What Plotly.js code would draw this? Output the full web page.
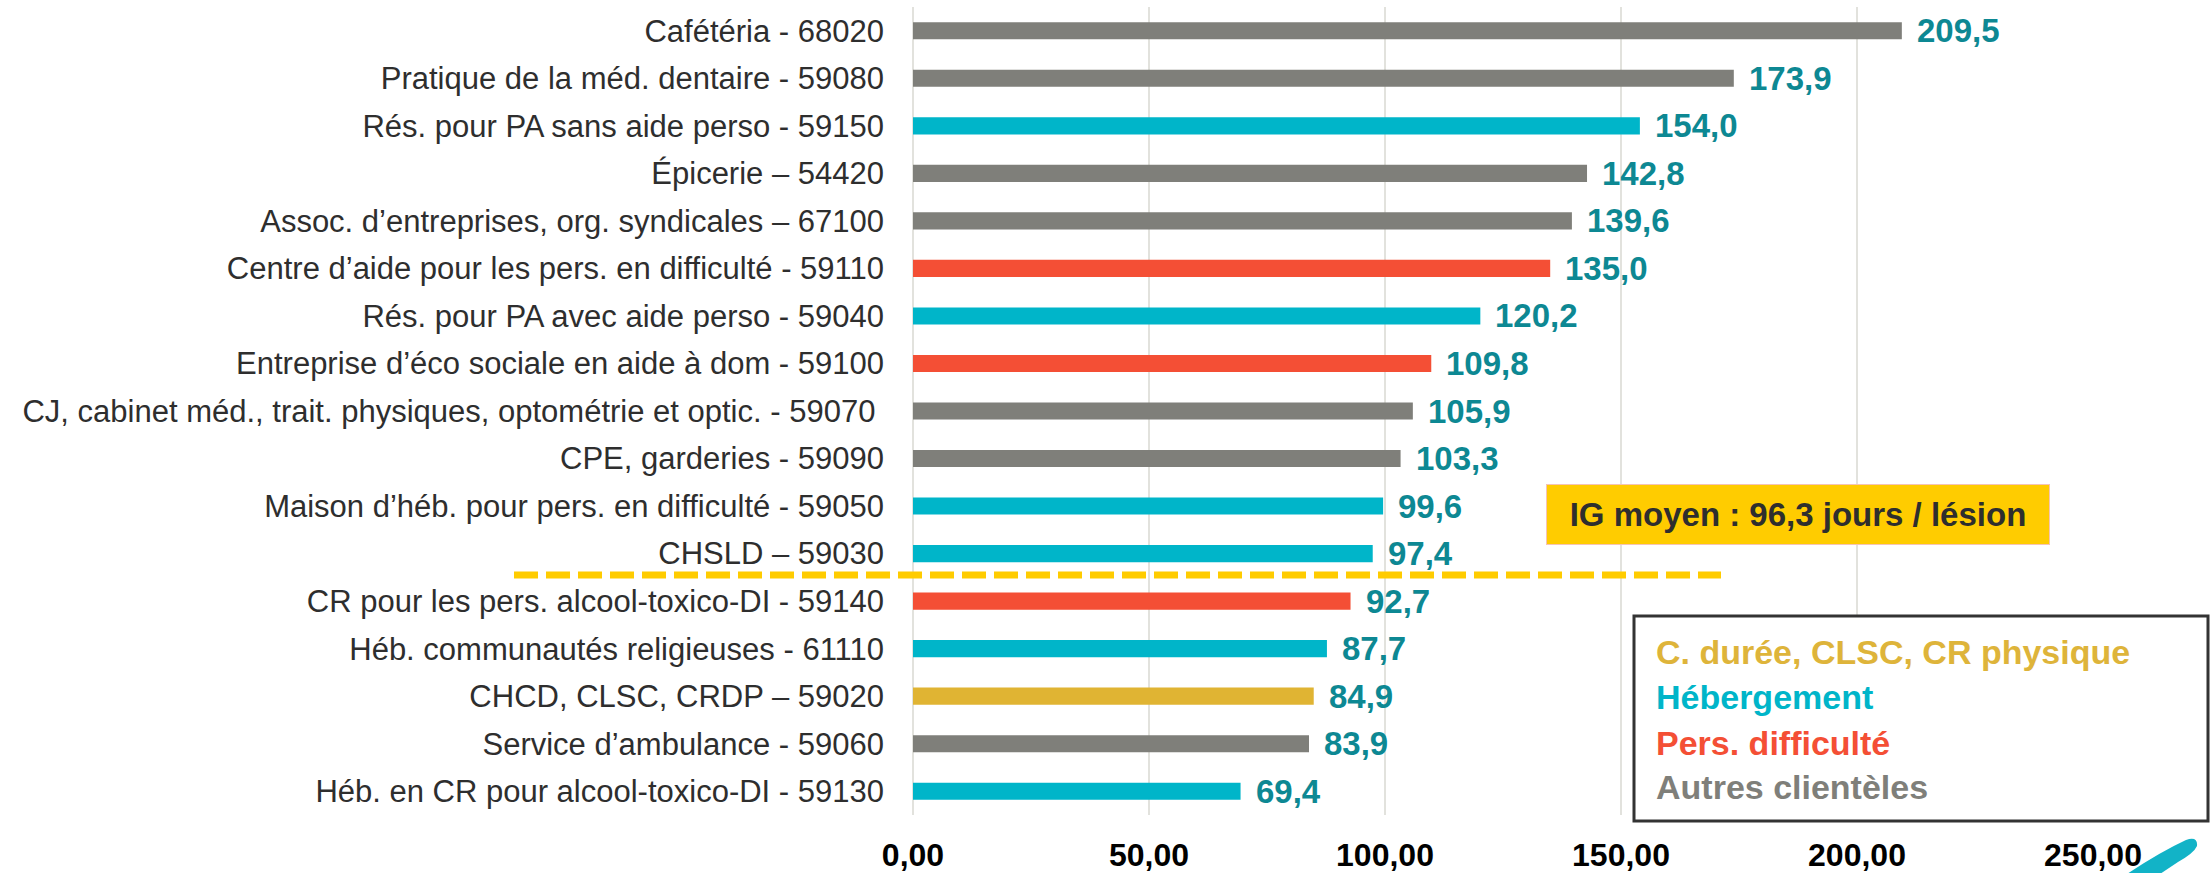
<!DOCTYPE html>
<html>
<head>
<meta charset="utf-8">
<script src="https://cdn.plot.ly/plotly-3.0.1.min.js"></script>
<style>html,body{margin:0;padding:0;background:#fff;}#chart{width:2212px;height:873px;}</style>
</head>
<body>
<div id="chart"></div>
<script>
// ---- Data ----
const categories = [
  "Cafétéria - 68020",
  "Pratique de la méd. dentaire - 59080",
  "Rés. pour PA sans aide perso - 59150",
  "Épicerie – 54420",
  "Assoc. d’entreprises, org. syndicales – 67100",
  "Centre d’aide pour les pers. en difficulté - 59110",
  "Rés. pour PA avec aide perso - 59040",
  "Entreprise d’éco sociale en aide à dom - 59100",
  "CJ, cabinet méd., trait. physiques, optométrie et optic. - 59070\u00a0",
  "CPE, garderies - 59090",
  "Maison d’héb. pour pers. en difficulté - 59050",
  "CHSLD – 59030",
  "CR pour les pers. alcool-toxico-DI - 59140",
  "Héb. communautés religieuses - 61110",
  "CHCD, CLSC, CRDP – 59020",
  "Service d’ambulance - 59060",
  "Héb. en CR pour alcool-toxico-DI - 59130"
];
const values = [209.5, 173.9, 154.0, 142.8, 139.6, 135.0, 120.2, 109.8, 105.9, 103.3, 99.6, 97.4, 92.7, 87.7, 84.9, 83.9, 69.4];
const groups = ["autres","autres","heb","autres","autres","pers","heb","pers","autres","autres","heb","heb","pers","heb","cd","autres","heb"];
const legendLabels = ["C. durée, CLSC, CR physique", "Hébergement", "Pers. difficulté", "Autres clientèles"];
const legendGroups = ["cd", "heb", "pers", "autres"];
const averageText = "IG moyen : 96,3 jours / lésion";
const xTickValues = [0, 50, 100, 150, 200, 250];

// ---- Styles ----
const groupColors = {cd: "#e0b433", heb: "#00b5c9", pers: "#f44f35", autres: "#7f7f7a"};
const legendTextColors = {cd: "#deb43a", heb: "#00b5c9", pers: "#f44f35", autres: "#7f7f7a"};
const valueColor = "#0d8893";
const FONT = "'Liberation Sans', Arial, sans-serif";

const W = 2212, H = 873;
const M = {l: 913, r: 119, t: 7, b: 58};
const PW = W - M.l - M.r, PH = H - M.t - M.b;
const px = x => (x - M.l) / PW;
const py = y => (H - M.b - y) / PH;

const fmt1 = v => v.toFixed(1).replace(".", ",");

const trace = {
  type: "bar",
  orientation: "h",
  y: categories,
  x: values,
  marker: {color: groups.map(g => groupColors[g])},
  hoverinfo: "x+y",
  cliponaxis: false
};

const annotations = [];
categories.forEach((c, i) => {
  annotations.push({
    x: values[i], y: c, xref: "x", yref: "y",
    text: fmt1(values[i]), showarrow: false,
    xanchor: "left", yanchor: "middle", xshift: 13,
    font: {family: FONT, size: 33, color: valueColor, weight: "bold"}
  });
});

// average box
annotations.push({
  x: px(1798), y: py(514.5), xref: "paper", yref: "paper",
  text: "<b>" + averageText + "</b>", showarrow: false,
  xanchor: "center", yanchor: "middle",
  width: 500, height: 57, bgcolor: "#ffcc00",
  bordercolor: "#f5c4b4", borderwidth: 1, borderpad: 1,
  font: {family: FONT, size: 33, color: "#2e2e2e"}
});

// legend texts
const legendY = [652, 697, 743, 787];
legendLabels.forEach((t, i) => {
  annotations.push({
    x: px(1654), y: py(legendY[i]), xref: "paper", yref: "paper",
    text: "<b>" + t + "</b>", showarrow: false,
    xanchor: "left", yanchor: "middle",
    font: {family: FONT, size: 34, color: legendTextColors[legendGroups[i]]}
  });
});

const shapes = [
  // average dashed separator
  {type: "line", xref: "paper", yref: "y", x0: px(514), x1: px(1721), y0: 11.45, y1: 11.45,
   line: {color: "#ffcc00", width: 7, dash: "24px,8px"}, layer: "above"},
  // legend box
  {type: "rect", xref: "paper", yref: "paper", x0: px(1634), x1: px(2208), y0: py(821), y1: py(616),
   line: {color: "#333333", width: 3}, fillcolor: "rgba(255,255,255,1)", layer: "above"},
  // decorative brush stroke
  {type: "path", xref: "paper", yref: "paper",
   path: `M ${px(2127)},${py(874)} Q ${px(2160)},${py(852)} ${px(2186)},${py(840)} Q ${px(2198)},${py(836)} ${px(2197)},${py(846)} Q ${px(2194)},${py(853)} ${px(2178)},${py(862)} L ${px(2160)},${py(874)} Z`,
   fillcolor: "#12b3c7", line: {width: 0}, layer: "above"}
];

const layout = {
  width: W, height: H,
  margin: M,
  paper_bgcolor: "#ffffff", plot_bgcolor: "#ffffff",
  showlegend: false,
  separators: ", ",
  bargap: 0.64,
  font: {family: FONT, color: "#2e2e2e"},
  xaxis: {
    range: [0, 250],
    tickvals: xTickValues,
    tickformat: ".2f",
    showgrid: true, gridcolor: "#e2e2dd", gridwidth: 2,
    zeroline: true, zerolinecolor: "#e2e2dd", zerolinewidth: 2,
    showline: false, ticks: "",
    ticklabelstandoff: 18,
    tickfont: {family: FONT, size: 32, color: "#000000", weight: "bold"},
    fixedrange: true
  },
  yaxis: {
    type: "category",
    categoryorder: "array", categoryarray: categories,
    range: [16.5, -0.5],
    showgrid: false, zeroline: false, showline: false, ticks: "",
    ticklabelstandoff: 28,
    tickfont: {family: FONT, size: 31, color: "#2e2e2e"},
    fixedrange: true
  },
  annotations: annotations,
  shapes: shapes
};

Plotly.newPlot("chart", [trace], layout, {displayModeBar: false, staticPlot: true});
</script>
</body>
</html>
